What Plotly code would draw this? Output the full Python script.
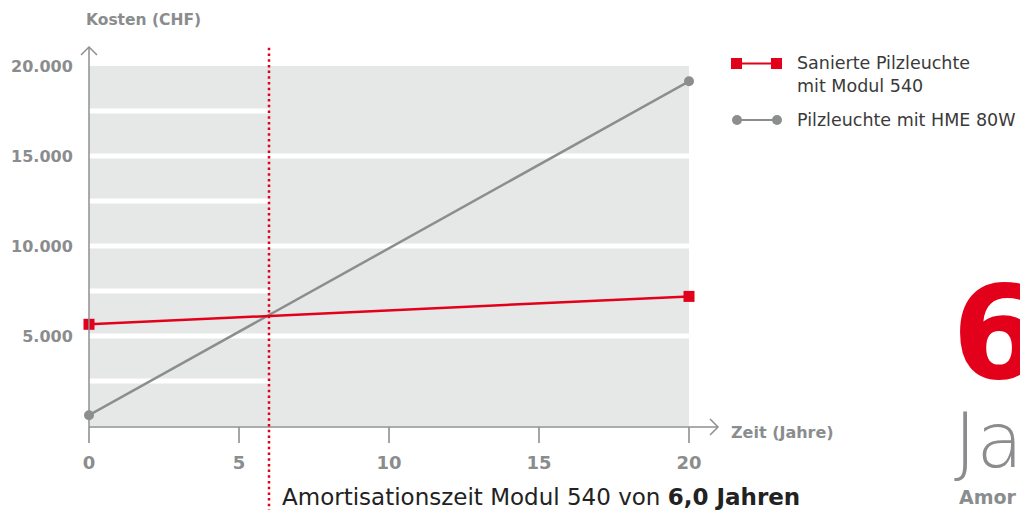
import plotly.graph_objects as go

# Kostenvergleich Pilzleuchte: saniert vs. HME 80W
jahre = [0, 20]
kosten_saniert = [5650, 7200]
kosten_hme = [600, 19150]
amortisation = 6.0

x_ticks = [0, 5, 10, 15, 20]
y_ticks = [5000, 10000, 15000, 20000]
y_ticklabels = ["5.000", "10.000", "15.000", "20.000"]
grid_voll = [5000, 10000, 15000]
grid_halb = [2500, 7500, 12500, 17500]

ROT = "#e2001a"
GRAU = "#8b8d8f"
TEXT_GRAU = "#8a8c8e"
BG = "#e6e7e7"
FONT = "DejaVu Sans"

fig = go.Figure()

fig.add_trace(go.Scatter(
    x=jahre, y=kosten_hme, mode="lines+markers",
    line=dict(color=GRAU, width=2.5),
    marker=dict(symbol="circle", size=10, color=GRAU),
    cliponaxis=False, showlegend=False,
))
fig.add_trace(go.Scatter(
    x=jahre, y=kosten_saniert, mode="lines+markers",
    line=dict(color=ROT, width=2.5),
    marker=dict(symbol="square", size=11, color=ROT),
    cliponaxis=False, showlegend=False,
))


# Pixel -> Papierkoordinaten (Plotflaeche 89..689 x 66..426)
def lx(p):
    return (p - 89) / 600.0


def ly(p):
    return (426 - p) / 360.0


shapes = []
# weisse Hilfslinien
for g in grid_voll:
    shapes.append(dict(type="line", xref="x", yref="y", x0=0, x1=20, y0=g, y1=g,
                       line=dict(color="white", width=5), layer="below"))
for g in grid_halb:
    shapes.append(dict(type="line", xref="x", yref="y", x0=0, x1=amortisation, y0=g, y1=g,
                       line=dict(color="white", width=5), layer="below"))

# Achsen mit Pfeilen
ax_col = "#8d8f91"
shapes.append(dict(type="line", xref="paper", yref="paper", x0=lx(89), x1=lx(89), y0=ly(427), y1=ly(47),
                   line=dict(color=ax_col, width=1.5)))
shapes.append(dict(type="line", xref="paper", yref="paper", x0=lx(89), x1=lx(718), y0=ly(427), y1=ly(427),
                   line=dict(color=ax_col, width=1.5)))
shapes.append(dict(type="path", xref="paper", yref="paper",
                   path=f"M {lx(81)},{ly(55)} L {lx(89)},{ly(47)} L {lx(97)},{ly(55)}",
                   line=dict(color=ax_col, width=1.5)))
shapes.append(dict(type="path", xref="paper", yref="paper",
                   path=f"M {lx(710)},{ly(419)} L {lx(718)},{ly(427)} L {lx(710)},{ly(435)}",
                   line=dict(color=ax_col, width=1.5)))

# Amortisationslinie
shapes.append(dict(type="line", xref="x", yref="paper", x0=amortisation, x1=amortisation,
                   y0=ly(512), y1=ly(45), line=dict(color=ROT, width=2.5, dash="2.5px,3.2px")))

# Legende (eigene Symbole)
shapes.append(dict(type="line", xref="paper", yref="paper", x0=lx(736), x1=lx(777), y0=ly(63.5), y1=ly(63.5),
                   line=dict(color=ROT, width=2)))
for cx in [736.5, 776.5]:
    shapes.append(dict(type="rect", xref="paper", yref="paper", x0=lx(cx - 5.5), x1=lx(cx + 5.5),
                       y0=ly(69), y1=ly(58), fillcolor=ROT, line=dict(width=0)))
shapes.append(dict(type="line", xref="paper", yref="paper", x0=lx(737), x1=lx(777), y0=ly(120), y1=ly(120),
                   line=dict(color=GRAU, width=2)))
for cx in [737, 777]:
    shapes.append(dict(type="circle", xref="paper", yref="paper", x0=lx(cx - 5), x1=lx(cx + 5),
                       y0=ly(125), y1=ly(115), fillcolor=GRAU, line=dict(width=0)))

annotations = [
    dict(text="<b>Kosten (CHF)</b>", xref="paper", yref="paper", x=lx(84), y=ly(20),
         xanchor="left", yanchor="middle", showarrow=False,
         font=dict(family=FONT, size=15.5, color=TEXT_GRAU)),
    dict(text="<b>Zeit (Jahre)</b>", xref="paper", yref="paper", x=lx(729), y=ly(432),
         xanchor="left", yanchor="middle", showarrow=False,
         font=dict(family=FONT, size=16, color=TEXT_GRAU)),
    dict(text="Sanierte Pilzleuchte<br>mit Modul 540", xref="paper", yref="paper", x=lx(795), y=ly(51),
         xanchor="left", yanchor="top", align="left", showarrow=False,
         font=dict(family=FONT, size=17.5, color="#3a3a3a")),
    dict(text="Pilzleuchte mit HME 80W", xref="paper", yref="paper", x=lx(795), y=ly(120),
         xanchor="left", yanchor="middle", showarrow=False,
         font=dict(family=FONT, size=17.5, color="#3a3a3a")),
    dict(text="Amortisationszeit Modul 540 von <b>6,0 Jahren</b>", xref="paper", yref="paper",
         x=lx(280), y=ly(497), xanchor="left", yanchor="middle", showarrow=False,
         font=dict(family=FONT, size=23, color="#222222")),
    dict(text="<b>6</b>", xref="paper", yref="paper", x=lx(950), y=ly(333),
         xanchor="left", yanchor="middle", showarrow=False,
         font=dict(family=FONT, size=130, color=ROT)),
    dict(text="Ja", xref="paper", yref="paper", x=lx(952), y=ly(440),
         xanchor="left", yanchor="middle", showarrow=False,
         font=dict(family=FONT, size=76, color=TEXT_GRAU, weight=200)),
    dict(text="<b>Amor</b>", xref="paper", yref="paper", x=lx(957), y=ly(497),
         xanchor="left", yanchor="middle", showarrow=False,
         font=dict(family=FONT, size=19, color=TEXT_GRAU)),
]

fig.update_layout(
    width=1020, height=510,
    margin=dict(l=89, r=331, t=66, b=84),
    paper_bgcolor="white", plot_bgcolor=BG,
    shapes=shapes, annotations=annotations,
    xaxis=dict(range=[0, 20], tickvals=x_ticks, showgrid=False, zeroline=False, showline=False,
               automargin=False, ticks="outside", ticklen=16, tickwidth=2, tickcolor="#a4a6a8",
               ticklabelstandoff=4,
               tickfont=dict(family=FONT, size=18, color=TEXT_GRAU, weight="bold")),
    yaxis=dict(range=[0, 20000], tickvals=y_ticks, ticktext=y_ticklabels, showgrid=False,
               zeroline=False, showline=False, automargin=False, ticks="outside", ticklen=12,
               tickcolor="rgba(0,0,0,0)",
               tickfont=dict(family=FONT, size=16, color=TEXT_GRAU, weight="bold")),
)

fig.write_html("out.html", config={"displayModeBar": False},
               post_script="document.body.style.margin='0';")
